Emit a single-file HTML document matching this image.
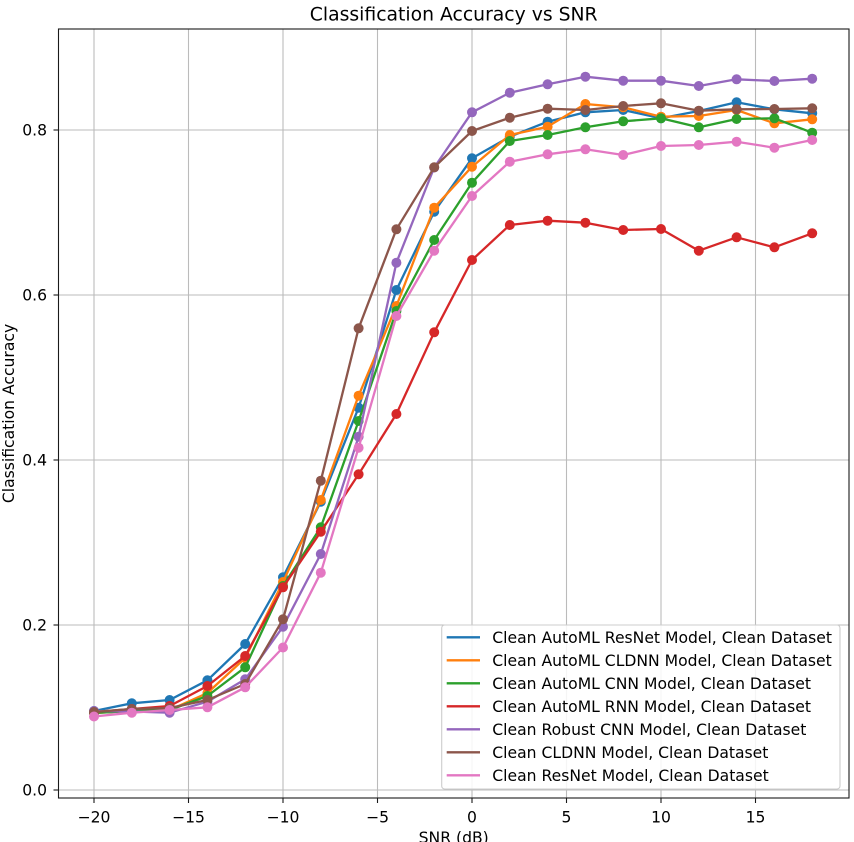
<!DOCTYPE html>
<html>
<head>
<meta charset="utf-8">
<style>
html,body{margin:0;padding:0;background:#fff;}
svg{display:block;}
text{font-family:"DejaVu Sans","Liberation Sans",sans-serif;fill:#000;}
</style>
</head>
<body>
<svg width="854" height="842" viewBox="0 0 854 842" xmlns="http://www.w3.org/2000/svg">
<rect x="0" y="0" width="854" height="842" fill="#fff"/>
<!-- grid -->
<g stroke="#b0b0b0" stroke-width="1.1" opacity="0.85">
<line x1="94" y1="29" x2="94" y2="798"/>
<line x1="188.5" y1="29" x2="188.5" y2="798"/>
<line x1="283" y1="29" x2="283" y2="798"/>
<line x1="377.5" y1="29" x2="377.5" y2="798"/>
<line x1="472" y1="29" x2="472" y2="798"/>
<line x1="566.5" y1="29" x2="566.5" y2="798"/>
<line x1="661" y1="29" x2="661" y2="798"/>
<line x1="755.5" y1="29" x2="755.5" y2="798"/>
<line x1="58.5" y1="790" x2="849" y2="790"/>
<line x1="58.5" y1="625" x2="849" y2="625"/>
<line x1="58.5" y1="460" x2="849" y2="460"/>
<line x1="58.5" y1="295" x2="849" y2="295"/>
<line x1="58.5" y1="130" x2="849" y2="130"/>
</g>

<defs>
<clipPath id="ax"><rect x="58.5" y="29" width="790.5" height="769"/></clipPath>
</defs>
<g clip-path="url(#ax)" fill="none" stroke-width="2.3" stroke-linejoin="round" stroke-linecap="round">
<!-- blue -->
<g stroke="#1f77b4" fill="none">
<polyline points="94,711 131.8,703.3 169.6,700 207.4,680.3 245.2,644 283,577.3 320.8,501.7 358.6,407.7 396.4,290 434.2,211.7 472,158.3 509.8,136.7 547.6,121.7 585.4,112.3 623.2,110 661,118.3 698.8,111 736.6,102.3 774.4,109.3 812.2,113.3"/>
</g>
<g fill="#1f77b4" stroke="none">
<circle cx="94" cy="711" r="5"/><circle cx="131.8" cy="703.3" r="5"/><circle cx="169.6" cy="700" r="5"/><circle cx="207.4" cy="680.3" r="5"/><circle cx="245.2" cy="644" r="5"/><circle cx="283" cy="577.3" r="5"/><circle cx="320.8" cy="501.7" r="5"/><circle cx="358.6" cy="407.7" r="5"/><circle cx="396.4" cy="290" r="5"/><circle cx="434.2" cy="211.7" r="5"/><circle cx="472" cy="158.3" r="5"/><circle cx="509.8" cy="136.7" r="5"/><circle cx="547.6" cy="121.7" r="5"/><circle cx="585.4" cy="112.3" r="5"/><circle cx="623.2" cy="110" r="5"/><circle cx="661" cy="118.3" r="5"/><circle cx="698.8" cy="111" r="5"/><circle cx="736.6" cy="102.3" r="5"/><circle cx="774.4" cy="109.3" r="5"/><circle cx="812.2" cy="113.3" r="5"/>
</g>
<!-- orange -->
<g stroke="#ff7f0e" fill="none">
<polyline points="94,713 131.8,711 169.6,710 207.4,693 245.2,658 283,582 320.8,500 358.6,395.7 396.4,306 434.2,207.7 472,166.7 509.8,135 547.6,126.7 585.4,104 623.2,107.3 661,116.7 698.8,116 736.6,110 774.4,123.3 812.2,119.3"/>
</g>
<g fill="#ff7f0e" stroke="none">
<circle cx="94" cy="713" r="5"/><circle cx="131.8" cy="711" r="5"/><circle cx="169.6" cy="710" r="5"/><circle cx="207.4" cy="693" r="5"/><circle cx="245.2" cy="658" r="5"/><circle cx="283" cy="582" r="5"/><circle cx="320.8" cy="500" r="5"/><circle cx="358.6" cy="395.7" r="5"/><circle cx="396.4" cy="306" r="5"/><circle cx="434.2" cy="207.7" r="5"/><circle cx="472" cy="166.7" r="5"/><circle cx="509.8" cy="135" r="5"/><circle cx="547.6" cy="126.7" r="5"/><circle cx="585.4" cy="104" r="5"/><circle cx="623.2" cy="107.3" r="5"/><circle cx="661" cy="116.7" r="5"/><circle cx="698.8" cy="116" r="5"/><circle cx="736.6" cy="110" r="5"/><circle cx="774.4" cy="123.3" r="5"/><circle cx="812.2" cy="119.3" r="5"/>
</g>
<!-- green -->
<g stroke="#2ca02c" fill="none">
<polyline points="94,713 131.8,711 169.6,710 207.4,696 245.2,667.3 283,586 320.8,527.3 358.6,421 396.4,311 434.2,240 472,182.7 509.8,141 547.6,135 585.4,127.3 623.2,121.3 661,118.3 698.8,127.3 736.6,119 774.4,118.3 812.2,132.7"/>
</g>
<g fill="#2ca02c" stroke="none">
<circle cx="94" cy="713" r="5"/><circle cx="131.8" cy="711" r="5"/><circle cx="169.6" cy="710" r="5"/><circle cx="207.4" cy="696" r="5"/><circle cx="245.2" cy="667.3" r="5"/><circle cx="283" cy="586" r="5"/><circle cx="320.8" cy="527.3" r="5"/><circle cx="358.6" cy="421" r="5"/><circle cx="396.4" cy="311" r="5"/><circle cx="434.2" cy="240" r="5"/><circle cx="472" cy="182.7" r="5"/><circle cx="509.8" cy="141" r="5"/><circle cx="547.6" cy="135" r="5"/><circle cx="585.4" cy="127.3" r="5"/><circle cx="623.2" cy="121.3" r="5"/><circle cx="661" cy="118.3" r="5"/><circle cx="698.8" cy="127.3" r="5"/><circle cx="736.6" cy="119" r="5"/><circle cx="774.4" cy="118.3" r="5"/><circle cx="812.2" cy="132.7" r="5"/>
</g>
<!-- red -->
<g stroke="#d62728" fill="none">
<polyline points="94,712 131.8,709 169.6,706 207.4,686 245.2,656 283,587.3 320.8,531.7 358.6,474.3 396.4,414 434.2,332.3 472,260 509.8,225 547.6,220.7 585.4,222.7 623.2,230 661,229 698.8,250.7 736.6,237.3 774.4,247.3 812.2,233.3"/>
</g>
<g fill="#d62728" stroke="none">
<circle cx="94" cy="712" r="5"/><circle cx="131.8" cy="709" r="5"/><circle cx="169.6" cy="706" r="5"/><circle cx="207.4" cy="686" r="5"/><circle cx="245.2" cy="656" r="5"/><circle cx="283" cy="587.3" r="5"/><circle cx="320.8" cy="531.7" r="5"/><circle cx="358.6" cy="474.3" r="5"/><circle cx="396.4" cy="414" r="5"/><circle cx="434.2" cy="332.3" r="5"/><circle cx="472" cy="260" r="5"/><circle cx="509.8" cy="225" r="5"/><circle cx="547.6" cy="220.7" r="5"/><circle cx="585.4" cy="222.7" r="5"/><circle cx="623.2" cy="230" r="5"/><circle cx="661" cy="229" r="5"/><circle cx="698.8" cy="250.7" r="5"/><circle cx="736.6" cy="237.3" r="5"/><circle cx="774.4" cy="247.3" r="5"/><circle cx="812.2" cy="233.3" r="5"/>
</g>
<!-- purple -->
<g stroke="#9467bd" fill="none">
<polyline points="94,711 131.8,711.5 169.6,712.7 207.4,701.7 245.2,679.3 283,626.7 320.8,554 358.6,436.7 396.4,262.7 434.2,167.5 472,112.3 509.8,92.7 547.6,84.3 585.4,76.7 623.2,80.7 661,80.7 698.8,86 736.6,79.3 774.4,81 812.2,78.7"/>
</g>
<g fill="#9467bd" stroke="none">
<circle cx="94" cy="711" r="5"/><circle cx="131.8" cy="711.5" r="5"/><circle cx="169.6" cy="712.7" r="5"/><circle cx="207.4" cy="701.7" r="5"/><circle cx="245.2" cy="679.3" r="5"/><circle cx="283" cy="626.7" r="5"/><circle cx="320.8" cy="554" r="5"/><circle cx="358.6" cy="436.7" r="5"/><circle cx="396.4" cy="262.7" r="5"/><circle cx="434.2" cy="167.5" r="5"/><circle cx="472" cy="112.3" r="5"/><circle cx="509.8" cy="92.7" r="5"/><circle cx="547.6" cy="84.3" r="5"/><circle cx="585.4" cy="76.7" r="5"/><circle cx="623.2" cy="80.7" r="5"/><circle cx="661" cy="80.7" r="5"/><circle cx="698.8" cy="86" r="5"/><circle cx="736.6" cy="79.3" r="5"/><circle cx="774.4" cy="81" r="5"/><circle cx="812.2" cy="78.7" r="5"/>
</g>
<!-- brown -->
<g stroke="#8c564b" fill="none">
<polyline points="94,712 131.8,709 169.6,708 207.4,700 245.2,684 283,619.3 320.8,480.7 358.6,328.3 396.4,229.3 434.2,167.3 472,131 509.8,117.7 547.6,108.7 585.4,110 623.2,106 661,103.3 698.8,110.7 736.6,109.3 774.4,109 812.2,108.3"/>
</g>
<g fill="#8c564b" stroke="none">
<circle cx="94" cy="712" r="5"/><circle cx="131.8" cy="709" r="5"/><circle cx="169.6" cy="708" r="5"/><circle cx="207.4" cy="700" r="5"/><circle cx="245.2" cy="684" r="5"/><circle cx="283" cy="619.3" r="5"/><circle cx="320.8" cy="480.7" r="5"/><circle cx="358.6" cy="328.3" r="5"/><circle cx="396.4" cy="229.3" r="5"/><circle cx="434.2" cy="167.3" r="5"/><circle cx="472" cy="131" r="5"/><circle cx="509.8" cy="117.7" r="5"/><circle cx="547.6" cy="108.7" r="5"/><circle cx="585.4" cy="110" r="5"/><circle cx="623.2" cy="106" r="5"/><circle cx="661" cy="103.3" r="5"/><circle cx="698.8" cy="110.7" r="5"/><circle cx="736.6" cy="109.3" r="5"/><circle cx="774.4" cy="109" r="5"/><circle cx="812.2" cy="108.3" r="5"/>
</g>
<!-- pink -->
<g stroke="#e377c2" fill="none">
<polyline points="94,716.5 131.8,712.7 169.6,710 207.4,707.3 245.2,687.3 283,647.5 320.8,572.7 358.6,447.7 396.4,316 434.2,250.7 472,196 509.8,161.7 547.6,154.3 585.4,149.3 623.2,155 661,146 698.8,145 736.6,141.7 774.4,147.7 812.2,140"/>
</g>
<g fill="#e377c2" stroke="none">
<circle cx="94" cy="716.5" r="5"/><circle cx="131.8" cy="712.7" r="5"/><circle cx="169.6" cy="710" r="5"/><circle cx="207.4" cy="707.3" r="5"/><circle cx="245.2" cy="687.3" r="5"/><circle cx="283" cy="647.5" r="5"/><circle cx="320.8" cy="572.7" r="5"/><circle cx="358.6" cy="447.7" r="5"/><circle cx="396.4" cy="316" r="5"/><circle cx="434.2" cy="250.7" r="5"/><circle cx="472" cy="196" r="5"/><circle cx="509.8" cy="161.7" r="5"/><circle cx="547.6" cy="154.3" r="5"/><circle cx="585.4" cy="149.3" r="5"/><circle cx="623.2" cy="155" r="5"/><circle cx="661" cy="146" r="5"/><circle cx="698.8" cy="145" r="5"/><circle cx="736.6" cy="141.7" r="5"/><circle cx="774.4" cy="147.7" r="5"/><circle cx="812.2" cy="140" r="5"/>
</g>
</g>

<!-- spines -->
<rect x="58.5" y="29" width="790.5" height="769" fill="none" stroke="#1a1a1a" stroke-width="1.1"/>

<!-- ticks -->
<g stroke="#1a1a1a" stroke-width="1.1">
<line x1="94" y1="798" x2="94" y2="803"/>
<line x1="188.5" y1="798" x2="188.5" y2="803"/>
<line x1="283" y1="798" x2="283" y2="803"/>
<line x1="377.5" y1="798" x2="377.5" y2="803"/>
<line x1="472" y1="798" x2="472" y2="803"/>
<line x1="566.5" y1="798" x2="566.5" y2="803"/>
<line x1="661" y1="798" x2="661" y2="803"/>
<line x1="755.5" y1="798" x2="755.5" y2="803"/>
<line x1="53.5" y1="790" x2="58.5" y2="790"/>
<line x1="53.5" y1="625" x2="58.5" y2="625"/>
<line x1="53.5" y1="460" x2="58.5" y2="460"/>
<line x1="53.5" y1="295" x2="58.5" y2="295"/>
<line x1="53.5" y1="130" x2="58.5" y2="130"/>
</g>

<!-- tick labels -->
<g font-size="15.6" text-anchor="middle">
<text x="94" y="822.5">−20</text>
<text x="188.5" y="822.5">−15</text>
<text x="283" y="822.5">−10</text>
<text x="377.5" y="822.5">−5</text>
<text x="472" y="822.5">0</text>
<text x="566.5" y="822.5">5</text>
<text x="661" y="822.5">10</text>
<text x="755.5" y="822.5">15</text>
</g>
<g font-size="15.6" text-anchor="end">
<text x="47" y="795.7">0.0</text>
<text x="47" y="630.7">0.2</text>
<text x="47" y="465.7">0.4</text>
<text x="47" y="300.7">0.6</text>
<text x="47" y="135.7">0.8</text>
</g>

<!-- axis labels & title -->
<text x="453.7" y="843" font-size="15.6" text-anchor="middle">SNR (dB)</text>
<text transform="translate(14,413.5) rotate(-90)" font-size="15.6" text-anchor="middle">Classification Accuracy</text>
<text x="453.7" y="20.3" font-size="18.8" text-anchor="middle">Classification Accuracy vs SNR</text>

<!-- legend -->
<rect x="441.7" y="625" width="398.3" height="164" rx="3" ry="3" fill="#fff" fill-opacity="0.85" stroke="#cccccc" stroke-width="1.1"/>
<g stroke-width="2.3">
<line x1="446.7" y1="637.3" x2="480" y2="637.3" stroke="#1f77b4"/>
<line x1="446.7" y1="660.3" x2="480" y2="660.3" stroke="#ff7f0e"/>
<line x1="446.7" y1="683.3" x2="480" y2="683.3" stroke="#2ca02c"/>
<line x1="446.7" y1="706.3" x2="480" y2="706.3" stroke="#d62728"/>
<line x1="446.7" y1="729.3" x2="480" y2="729.3" stroke="#9467bd"/>
<line x1="446.7" y1="752.3" x2="480" y2="752.3" stroke="#8c564b"/>
<line x1="446.7" y1="775.3" x2="480" y2="775.3" stroke="#e377c2"/>
</g>
<g font-size="15.6">
<text x="492.3" y="643">Clean AutoML ResNet Model, Clean Dataset</text>
<text x="492.3" y="666">Clean AutoML CLDNN Model, Clean Dataset</text>
<text x="492.3" y="689">Clean AutoML CNN Model, Clean Dataset</text>
<text x="492.3" y="712">Clean AutoML RNN Model, Clean Dataset</text>
<text x="492.3" y="735">Clean Robust CNN Model, Clean Dataset</text>
<text x="492.3" y="758">Clean CLDNN Model, Clean Dataset</text>
<text x="492.3" y="781">Clean ResNet Model, Clean Dataset</text>
</g>
</svg>
</body>
</html>
